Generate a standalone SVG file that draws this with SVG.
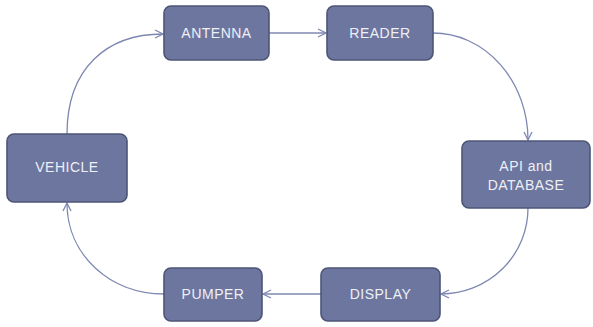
<svg xmlns="http://www.w3.org/2000/svg" width="593" height="327" viewBox="0 0 593 327">
  <style>
    .box { fill: #6d769f; stroke: #4d5577; stroke-width: 1.6; }
    .lbl { fill: #eef0f6; font-family: "Liberation Sans", Arial, sans-serif; font-size: 14px; letter-spacing: 0.5px; text-anchor: middle; dominant-baseline: central; }
    .edge { fill: none; stroke: #7e87b2; stroke-width: 1.3; marker-end: url(#arrow); }
  </style>
  <defs>
    <marker id="arrow" viewBox="0 0 10 10" refX="9" refY="5" markerWidth="10" markerHeight="10" markerUnits="userSpaceOnUse" orient="auto">
      <path d="M1,1 L9,5 L1,9" fill="none" stroke="#7e87b2" stroke-width="1.3"/>
    </marker>
  </defs>
  <rect width="593" height="327" fill="#ffffff"/>

  <g id="connectors">
    <path class="edge" d="M269,33 L326,33"/>
    <path class="edge" d="M433,33 A95,107 0 0 1 528,140"/>
    <path class="edge" d="M528,208 A87,86 0 0 1 441,294"/>
    <path class="edge" d="M321,294 L263,294"/>
    <path class="edge" d="M164,294 C110,294 67,255 67,203"/>
    <path class="edge" d="M67,134 C67,68 107,34 163,34"/>
  </g>

  <g id="antenna">
    <rect class="box" x="164" y="6" width="105" height="54" rx="7"/>
    <text class="lbl" x="216.5" y="33">ANTENNA</text>
  </g>
  <g id="reader">
    <rect class="box" x="327" y="6" width="106" height="54" rx="7"/>
    <text class="lbl" x="380" y="33">READER</text>
  </g>
  <g id="api-database">
    <rect class="box" x="462" y="141" width="128" height="67" rx="7"/>
    <text class="lbl" x="526" y="166">API and</text>
    <text class="lbl" x="526" y="185">DATABASE</text>
  </g>
  <g id="display">
    <rect class="box" x="321" y="268" width="119" height="53" rx="7"/>
    <text class="lbl" x="380.5" y="294">DISPLAY</text>
  </g>
  <g id="pumper">
    <rect class="box" x="164" y="268" width="98" height="53" rx="7"/>
    <text class="lbl" x="213" y="294">PUMPER</text>
  </g>
  <g id="vehicle">
    <rect class="box" x="7" y="134" width="120" height="68" rx="7"/>
    <text class="lbl" x="67" y="167">VEHICLE</text>
  </g>
</svg>
